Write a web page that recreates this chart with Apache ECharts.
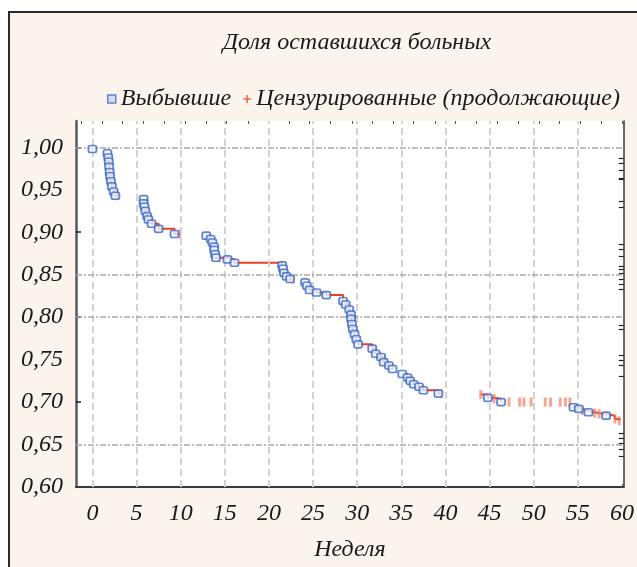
<!DOCTYPE html>
<html><head><meta charset="utf-8">
<script src="https://cdn.jsdelivr.net/npm/echarts@6/dist/echarts.min.js"></script>
<style>html,body{margin:0;padding:0;background:#fff}#c{width:637px;height:567px}</style>
</head><body><div id="c"></div>
<script>
// ---- data ----
const titleText = 'Доля оставшихся больных';
const seriesNames = ['Выбывшие', 'Цензурированные (продолжающие)'];
const xAxisName = 'Неделя';

// events (Выбывшие)
const eventWeeks = [0, 1.7, 1.8, 1.85, 1.9, 1.95, 2.0, 2.1, 2.2, 2.4, 2.6,
  5.8, 5.8, 5.9, 6.0, 6.2, 6.35, 6.7, 7.5, 9.3,
  12.9, 13.4, 13.6, 13.8, 13.8, 13.9, 14.0, 15.3, 16.1,
  21.5, 21.6, 21.7, 22.0, 22.4, 24.1, 24.3, 24.6, 25.4, 26.5,
  28.4, 28.7, 29.1, 29.3, 29.3, 29.4, 29.5, 29.7, 29.9, 30.1,
  31.7, 32.1, 32.7, 33.0, 33.6, 34.0,
  35.1, 35.7, 36.0, 36.4, 37.0, 37.5, 39.2,
  44.8, 46.3, 54.5, 55.1, 56.2, 58.2];
const eventSurv = [0.998, 0.993, 0.988, 0.983, 0.977, 0.971, 0.966, 0.960, 0.954, 0.948, 0.943,
  0.939, 0.934, 0.930, 0.925, 0.919, 0.915, 0.910, 0.904, 0.898,
  0.896, 0.892, 0.888, 0.883, 0.879, 0.874, 0.870, 0.868, 0.864,
  0.861, 0.857, 0.852, 0.848, 0.845, 0.841, 0.837, 0.832, 0.829, 0.826,
  0.819, 0.815, 0.809, 0.803, 0.798, 0.792, 0.786, 0.780, 0.774, 0.768,
  0.763, 0.757, 0.753, 0.747, 0.743, 0.739,
  0.733, 0.729, 0.725, 0.721, 0.718, 0.714, 0.710,
  0.705, 0.700, 0.694, 0.692, 0.688, 0.684];

// censored (Цензурированные)
const censWeeks = [2.8, 9.9, 14.3, 22.7, 39.5, 44.0, 45.5, 47.2, 48.4, 48.9, 49.7,
  51.3, 51.9, 53.0, 53.6, 54.1, 55.5, 56.9, 57.4, 59.2, 59.7];
const censSurv = [0.943, 0.898, 0.870, 0.845, 0.710, 0.709, 0.704, 0.700, 0.700, 0.700, 0.700,
  0.700, 0.700, 0.700, 0.700, 0.700, 0.690, 0.687, 0.686, 0.680, 0.678];

// week ranges where the red step curve is visible
const stepRanges = [[1.6, 2.9], [5.7, 10], [12.8, 22.8], [24, 34.1], [35, 39.6], [43.9, 46.4], [54.4, 60]];

// axis ticks / labels
const xTickLabels = [0, 5, 10, 15, 20, 25, 30, 35, 40, 45, 50, 55, 60];
const xGridLines = [0, 5, 10, 15, 20, 25, 30, 35, 40, 45, 50, 55];
const xTopTicks = [-1.3, 1.1, 3.4, 5.8, 8.1, 10.5, 12.9, 15.2, 17.6, 19.9, 22.3, 24.6, 27.0, 29.4,
  31.7, 34.1, 36.4, 38.8, 41.1, 43.5, 45.9, 48.2, 50.6, 52.9, 55.3, 57.6, 60.0];
const yTickLabels = [0.60, 0.65, 0.70, 0.75, 0.80, 0.85, 0.90, 0.95, 1.00];
const yMajorTicks = [0.70, 0.80, 0.90, 1.00];
const yGridLines = [1.00, 0.85, 0.80, 0.65];
const yRightTicks = [0.987, 0.981, 0.973, 0.964, 0.962, 0.936, 0.930, 0.886, 0.880, 0.872,
  0.860, 0.857, 0.852, 0.845, 0.839, 0.833, 0.790, 0.786, 0.755, 0.749, 0.743, 0.731,
  0.663, 0.657, 0.651, 0.645, 0.636];

// ---- build ----
const events = eventWeeks.map((w, i) => [w, eventSurv[i]]);
const cens = censWeeks.map((w, i) => [w, censSurv[i]]);
const all = events.concat(cens).sort((a, b) => a[0] - b[0] || b[1] - a[1]);
const stepData = [];
stepRanges.forEach((r, k) => {
  if (k > 0) stepData.push([null, null]);
  all.filter(p => p[0] >= r[0] && p[0] <= r[1]).forEach(p => stepData.push(p));
});

const serif = '"Liberation Serif", "Times New Roman", serif';
const txt = { fontFamily: serif, fontStyle: 'italic', color: '#1a1a1a', fontSize: 24 };
const plusIcon = 'path://M4,0 L6,0 L6,4 L10,4 L10,6 L6,6 L6,10 L4,10 L4,6 L0,6 L0,4 L4,4 Z';

const chart = echarts.init(document.getElementById('c'), null, { renderer: 'canvas' });
chart.setOption({
  backgroundColor: '#ffffff',
  animation: false,
  graphic: [{
    type: 'rect', z: -10, silent: true,
    shape: { x: 9, y: 12, width: 700, height: 700 },
    style: { fill: '#faf4ed', stroke: '#2a2a2a', lineWidth: 2 }
  }],
  title: {
    text: titleText, left: 352, top: 26, textAlign: 'center',
    textStyle: Object.assign({}, txt, { fontWeight: 'normal', fontSize: 24 })
  },
  legend: {
    left: 102, top: 82, itemGap: 12, itemWidth: 8, itemHeight: 8,
    textStyle: Object.assign({}, txt, { fontSize: 24 }),
    data: [
      { name: seriesNames[0], icon: 'rect', itemStyle: { color: '#c9d8f2', borderColor: '#3d6cc6', borderWidth: 1.5 } },
      { name: seriesNames[1], icon: plusIcon, itemStyle: { color: '#f04a2c' } }
    ]
  },
  grid: { left: 76, right: 6, top: 121, bottom: 80, show: true, backgroundColor: '#ffffff', borderWidth: 0 },
  xAxis: [{
    type: 'value', min: -1.86, max: 60.2, position: 'bottom',
    name: xAxisName, nameLocation: 'middle', nameGap: 51,
    nameTextStyle: Object.assign({}, txt),
    axisLine: { show: true, onZero: false, lineStyle: { color: '#3a3a3a', width: 2 } },
    axisTick: { show: true, inside: true, length: 3, customValues: xTickLabels, lineStyle: { color: '#555' } },
    axisLabel: Object.assign({}, txt, { customValues: xTickLabels, margin: 15, formatter: v => String(v) }),
    splitLine: { show: false }
  }, {
    type: 'value', min: -1.86, max: 60.2, position: 'top',
    axisLine: { show: false, onZero: false },
    axisTick: { show: true, inside: true, length: 3, customValues: xTopTicks, lineStyle: { color: '#555' } },
    axisLabel: { show: false }, splitLine: { show: false }
  }],
  yAxis: [{
    type: 'value', min: 0.60, max: 1.031, position: 'left',
    axisLine: { show: true, onZero: false, lineStyle: { color: '#5a5a5a', width: 2.5 } },
    axisTick: { show: true, inside: true, length: 5, customValues: yMajorTicks, lineStyle: { color: '#222', width: 1.5 } },
    axisLabel: Object.assign({}, txt, { customValues: yTickLabels, margin: 13, formatter: v => v.toFixed(2).replace('.', ',') }),
    splitLine: { show: false }
  }, {
    type: 'value', min: 0.60, max: 1.031, position: 'right',
    axisLine: { show: true, onZero: false, lineStyle: { color: '#3a3a3a', width: 1.5 } },
    axisTick: { show: true, inside: true, length: 5, customValues: yRightTicks, lineStyle: { color: '#222', width: 1.2 } },
    axisLabel: { show: false }, splitLine: { show: false }
  }],
  series: [{
    name: 'grid', type: 'line', data: [], silent: true, z: 1,
    markLine: {
      silent: true, symbol: 'none', label: { show: false }, animation: false,
      data: xGridLines.map(v => ({ xAxis: v, lineStyle: { color: '#d2d2d2', width: 2, type: [7, 4] } }))
        .concat(yGridLines.map(v => ({ yAxis: v, lineStyle: { color: '#a9a9a9', width: 1.5, type: [6, 2, 2, 2] } })))
    }
  }, {
    name: 'step', type: 'line', data: stepData, step: 'end', showSymbol: false, symbol: 'none',
    connectNulls: false, silent: true, z: 3,
    lineStyle: { color: '#ec3f24', width: 2 }
  }, {
    name: seriesNames[1], type: 'scatter', data: cens, z: 4,
    symbol: 'rect', symbolSize: [3, 9],
    itemStyle: { color: 'rgba(243,115,85,0.8)' }
  }, {
    name: seriesNames[0], type: 'scatter', data: events, z: 5,
    symbol: 'roundRect', symbolSize: [8, 7],
    itemStyle: { color: '#eef3fb', borderColor: '#3a68c4', borderWidth: 1.7 }
  }]
});
</script></body></html>
